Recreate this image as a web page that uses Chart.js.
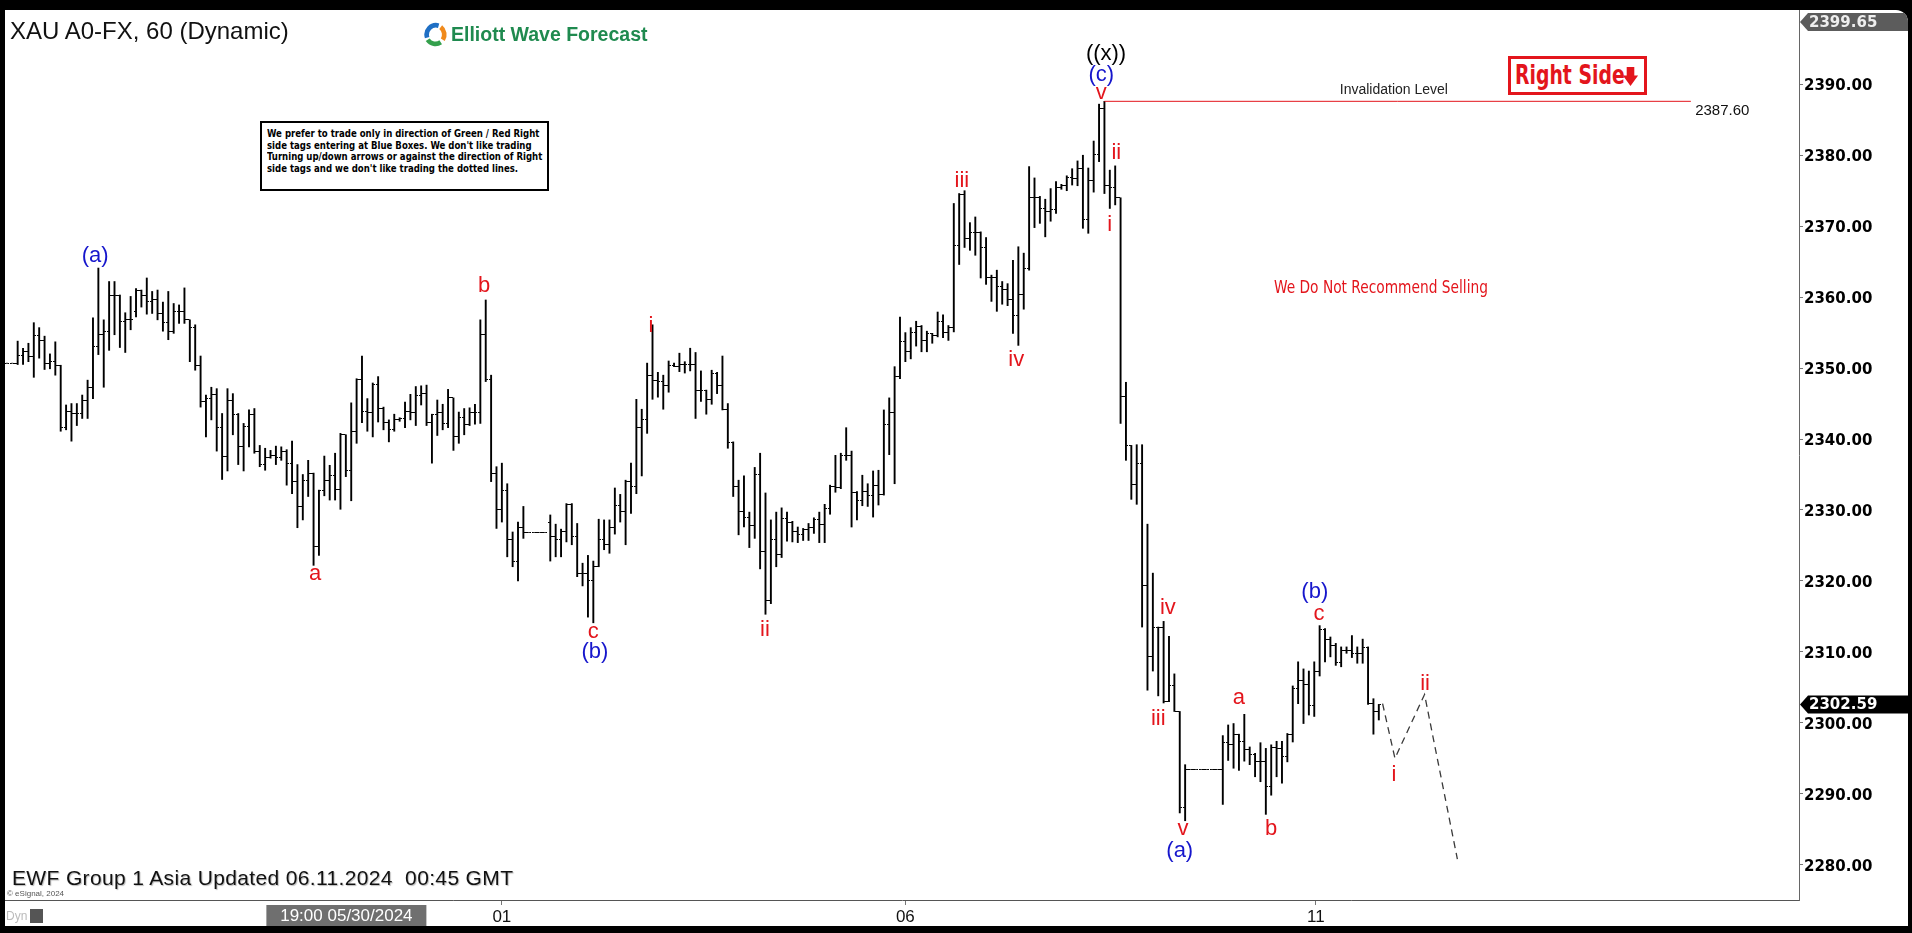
<!DOCTYPE html>
<html>
<head>
<meta charset="utf-8">
<script src="https://cdn.jsdelivr.net/npm/chart.js@4.4.1/dist/chart.umd.min.js"></script>
<style>
  html, body { margin: 0; padding: 0; background: #000; width: 1912px; height: 933px; overflow: hidden; }
  #panel { position: absolute; left: 5px; top: 10px; width: 1903px; height: 916px; background: #fff;
           border-top-right-radius: 12px; overflow: hidden; }
  #chart { position: absolute; left: 0; top: 0; }
  .abs { position: absolute; white-space: nowrap; }
  #title { left: 5px; top: 8px; font: 24px/26px "Liberation Sans", Arial, sans-serif; color: #111; }
  #logo { left: 418px; top: 12px; width: 25px; height: 25px; }
  #logoText { left: 446px; top: 14px; font: bold 19.5px/20px "Liberation Sans", Arial, sans-serif; color: #1f8a4f; }
  #note { left: 255px; top: 111px; width: 289px; height: 70px; box-sizing: border-box; border: 2px solid #000; background: #fff; }
  #note div { position: absolute; left: 5px; top: 5px; transform: scaleX(0.865); transform-origin: left top;
              font: bold 11px/11.7px "Liberation Sans Narrow", "DejaVu Sans Condensed", sans-serif; color: #000; white-space: nowrap; }
  #rightSide { left: 1503px; top: 46px; width: 139px; height: 39px; box-sizing: border-box; border: 3px solid #e3151c; background: #fff; }
  #rightSide span { position: absolute; left: 4px; top: 0; transform: scaleX(0.805); transform-origin: left top;
                    color: #e3151c; font: bold 26px/33px "Liberation Sans Narrow", "DejaVu Sans Condensed", sans-serif; white-space: nowrap; }
  #rightSide svg { position: absolute; left: 111px; top: 8px; }
  #ewf { left: 7px; top: 857px; font: 21px/22px "Liberation Sans", Arial, sans-serif; letter-spacing: 0.35px; color: #111;
         text-shadow: 1px 1px 1px #bbb; }
  #esig { left: 2px; top: 879px; font: 8px/9px "Liberation Sans", Arial, sans-serif; color: #555; }
  #dyn { left: 1px; top: 899px; font: 12px/14px "Liberation Sans", Arial, sans-serif; color: #bbb; }
  #dynIcon { left: 25px; top: 899px; width: 13px; height: 14px; background: #555; }
</style>
</head>
<body>
<div id="panel">
  <canvas id="chart" width="1903" height="916"></canvas>
  <div class="abs" id="title">XAU A0-FX, 60 (Dynamic)</div>
  <svg class="abs" id="logo" viewBox="0 0 24 24">
    <path d="M4 15 A9 9 0 0 1 15 3.5" fill="none" stroke="#1f6fc4" stroke-width="4.5"/>
    <path d="M17 5 A9 9 0 0 1 19 17" fill="none" stroke="#f08a1c" stroke-width="4.5"/>
    <path d="M17 19.5 A9 9 0 0 1 4.5 17" fill="none" stroke="#34a04c" stroke-width="4.5"/>
  </svg>
  <div class="abs" id="logoText">Elliott Wave Forecast</div>
  <div class="abs" id="note"><div>We prefer to trade only in direction of Green / Red Right<br>side tags entering at Blue Boxes. We don't like trading<br>Turning up/down arrows or against the direction of Right<br>side tags and we don't like trading the dotted lines.</div></div>
  <div class="abs" id="rightSide"><span>Right Side</span><svg width="17" height="19" viewBox="0 0 16 20"><path d="M4 0 H12 V9 H16 L8 20 L0 9 H4 Z" fill="#e3151c"/></svg></div>
  <div class="abs" id="ewf">EWF Group 1 Asia Updated 06.11.2024&nbsp; 00:45 GMT</div>
  <div class="abs" id="esig">© eSignal, 2024</div>
  <div class="abs" id="dyn">Dyn</div>
  <div class="abs" id="dynIcon"></div>
</div>
<script>
// hourly bars, left to right
const opens = [
  2350.7,2350.7,2350.7,2351.8,2352.3,2351.7,2354.6,2353.9,2350.7,2350.9,
  2350.3,2341.6,2343.9,2343.6,2343.6,2345.5,2347.3,2353.1,2354.8,2355.1,
  2360.2,2360.2,2356.5,2356.9,2358.0,2361.0,2360.2,2359.4,2359.7,2357.7,
  2356.4,2355.2,2358.0,2358.0,2356.8,2355.7,2350.3,2345.3,2345.7,2346.3,
  2341.6,2337.5,2345.5,2343.4,2338.9,2341.7,2343.4,2338.3,2336.4,2337.4,
  2337.7,2337.4,2338.3,2336.6,2334.0,2330.5,2334.2,2335.2,2324.8,2332.7,
  2334.2,2334.9,2332.9,2340.6,2335.6,2341.1,2348.4,2343.9,2343.7,2347.7,
  2344.3,2342.4,2341.3,2342.8,2342.9,2343.9,2343.8,2346.1,2346.4,2342.4,
  2343.5,2343.8,2342.2,2345.8,2340.3,2343.1,2342.0,2343.8,2343.7,2354.7,
  2348.4,2335.2,2330.0,2332.7,2325.8,2322.8,2327.5,2326.8,2326.8,2326.8,
  2326.8,2328.2,2326.2,2325.9,2326.9,2330.8,2326.3,2321.1,2321.1,2320.0,
  2322.1,2325.8,2325.2,2327.6,2330.6,2329.8,2334.0,2333.3,2341.6,2342.7,
  2348.9,2348.3,2348.1,2347.5,2350.3,2350.2,2350.5,2350.5,2350.5,2346.9,
  2346.8,2345.6,2349.3,2347.5,2344.2,2339.5,2333.3,2329.8,2329.0,2327.8,
  2335.0,2324.2,2317.3,2325.9,2323.7,2328.8,2328.3,2327.0,2326.6,2327.3,
  2327.5,2328.6,2328.0,2330.2,2333.3,2333.1,2337.7,2337.7,2332.5,2331.4,
  2332.6,2332.1,2333.5,2332.2,2342.0,2343.7,2348.8,2353.8,2352.4,2355.0,
  2355.8,2353.9,2354.9,2354.6,2356.6,2355.0,2355.7,2367.3,2374.4,2368.3,
  2369.1,2369.1,2367.0,2362.7,2362.7,2361.5,2361.1,2359.6,2357.4,2360.4,
  2364.0,2374.1,2374.1,2372.5,2372.0,2372.4,2375.4,2375.7,2376.8,2376.7,
  2378.2,2370.9,2376.4,2380.1,2386.6,2375.8,2375.4,2374.0,2346.0,2339.1,
  2333.6,2336.5,2319.4,2309.4,2313.4,2313.4,2303.0,2305.3,2301.6,2288.0,
  2293.4,2293.4,2293.4,2293.4,2293.4,2293.4,2293.4,2297.2,2296.9,2298.3,
  2297.4,2296.2,2295.5,2294.5,2294.5,2291.0,2296.5,2296.4,2295.2,2298.4,
  2304.8,2306.0,2305.4,2302.5,2307.2,2313.2,2311.7,2310.9,2308.5,2310.2,
  2310.2,2309.8,2309.8,2310.6,2302.7,2301.6
];
const highs = [
  2350.7,2350.7,2353.8,2352.8,2353.5,2356.4,2355.7,2354.5,2352.0,2353.7,
  2350.4,2344.8,2345.0,2345.0,2346.2,2348.3,2357.1,2364.1,2356.8,2362.2,
  2362.2,2360.3,2357.8,2360.1,2361.2,2361.0,2362.7,2360.8,2361.0,2359.3,
  2360.8,2359.1,2358.9,2361.3,2356.8,2356.1,2351.7,2346.2,2347.3,2347.1,
  2343.6,2347.1,2346.4,2343.6,2342.2,2344.1,2344.3,2339.1,2338.7,2338.4,
  2339.0,2338.9,2338.5,2339.7,2336.4,2335.0,2337.0,2335.2,2332.8,2337.6,
  2336.3,2338.0,2340.8,2340.6,2345.1,2348.5,2351.7,2345.7,2347.9,2348.8,
  2344.5,2342.7,2343.5,2343.0,2345.2,2346.3,2347.4,2347.5,2347.6,2343.5,
  2345.5,2344.9,2347.0,2345.8,2343.8,2344.3,2344.4,2344.9,2356.8,2359.6,
  2349.0,2336.1,2336.6,2333.7,2326.9,2328.3,2330.5,2326.8,2326.8,2326.8,
  2326.8,2329.3,2328.0,2327.3,2330.9,2330.9,2328.1,2322.5,2323.6,2322.8,
  2328.7,2328.6,2328.6,2333.1,2332.2,2334.2,2336.6,2345.6,2344.2,2350.7,
  2356.1,2349.4,2349.0,2351.0,2350.7,2352.1,2350.9,2352.8,2352.2,2349.6,
  2346.9,2349.7,2349.4,2351.7,2345.0,2339.6,2334.2,2334.8,2329.7,2336.0,
  2338.0,2332.4,2328.6,2329.7,2330.3,2329.7,2328.4,2327.6,2327.4,2328.1,
  2328.9,2329.7,2330.8,2333.5,2337.7,2338.0,2341.6,2338.3,2332.6,2334.9,
  2333.7,2335.5,2335.6,2344.1,2345.8,2350.2,2357.2,2355.0,2355.7,2356.6,
  2356.0,2355.2,2354.9,2357.9,2357.5,2356.0,2373.2,2374.6,2375.0,2370.5,
  2371.3,2369.2,2368.4,2363.1,2363.8,2362.2,2361.9,2365.2,2367.1,2366.2,
  2378.4,2376.8,2374.2,2373.8,2375.3,2376.3,2375.9,2377.1,2378.1,2379.2,
  2380.0,2378.2,2382.0,2387.2,2387.6,2377.9,2378.5,2374.0,2348.0,2339.1,
  2339.2,2339.2,2328.0,2321.1,2313.5,2314.3,2312.2,2306.9,2301.6,2294.1,
  2293.4,2293.4,2293.4,2293.4,2293.4,2293.4,2298.2,2299.7,2299.9,2298.4,
  2301.2,2296.6,2295.7,2297.2,2296.4,2296.9,2297.4,2297.4,2298.5,2305.2,
  2308.6,2307.6,2307.3,2308.6,2313.7,2313.3,2312.1,2311.2,2310.7,2310.7,
  2312.3,2310.7,2311.8,2310.7,2303.4,2302.6
];
const lows = [
  2350.7,2350.7,2350.5,2350.5,2350.9,2348.7,2351.4,2349.8,2349.9,2349.0,
  2341.1,2341.3,2339.7,2341.9,2342.9,2342.9,2345.7,2351.9,2347.3,2352.5,
  2354.7,2352.9,2352.2,2355.4,2357.2,2358.6,2357.6,2357.7,2356.8,2355.2,
  2354.0,2354.9,2356.3,2356.3,2350.9,2349.7,2344.5,2340.3,2342.7,2338.3,
  2334.3,2335.5,2340.6,2336.4,2335.5,2338.9,2338.0,2336.1,2335.6,2337.3,
  2336.4,2337.0,2333.5,2332.3,2327.5,2328.6,2331.9,2322.2,2323.6,2332.0,
  2331.4,2331.4,2330.1,2334.7,2331.3,2339.4,2342.3,2341.1,2340.3,2342.4,
  2341.3,2339.6,2341.1,2342.5,2341.6,2342.7,2341.9,2344.8,2341.9,2336.6,
  2340.5,2341.3,2341.6,2338.4,2339.4,2340.6,2341.9,2342.1,2342.2,2348.1,
  2334.0,2327.4,2328.3,2323.4,2322.0,2320.0,2326.0,2326.8,2326.8,2326.8,
  2326.8,2322.8,2323.4,2323.4,2325.5,2325.1,2320.6,2319.3,2314.9,2314.1,
  2322.0,2324.4,2323.9,2326.6,2328.3,2325.1,2329.5,2332.3,2334.8,2340.8,
  2345.6,2345.9,2344.2,2346.6,2350.2,2349.5,2349.3,2349.6,2342.9,2345.3,
  2343.5,2344.9,2346.4,2344.1,2338.7,2331.9,2326.5,2327.6,2324.7,2326.0,
  2321.7,2315.3,2316.8,2322.0,2323.3,2325.6,2325.5,2325.4,2325.7,2325.7,
  2326.7,2325.4,2325.4,2329.4,2332.5,2333.0,2337.0,2327.6,2328.6,2330.6,
  2330.5,2329.0,2330.7,2332.1,2337.8,2333.7,2348.5,2350.9,2351.3,2353.1,
  2352.3,2352.3,2353.5,2354.4,2354.3,2353.9,2355.1,2364.6,2367.0,2366.6,
  2365.9,2362.7,2361.8,2359.4,2358.0,2359.0,2358.8,2354.9,2353.2,2358.3,
  2363.8,2369.8,2370.4,2368.5,2370.7,2371.8,2375.2,2375.0,2375.8,2375.7,
  2369.7,2369.0,2374.8,2379.1,2374.6,2372.5,2373.0,2342.2,2337.0,2331.5,
  2330.8,2313.5,2304.6,2307.3,2303.8,2302.8,2303.0,2301.6,2287.3,2286.2,
  2293.4,2293.4,2293.4,2293.4,2293.4,2293.4,2288.5,2294.7,2293.6,2293.3,
  2294.6,2294.1,2292.4,2291.7,2287.1,2289.8,2292.4,2291.5,2294.5,2297.3,
  2302.7,2299.9,2301.1,2300.9,2306.6,2308.6,2309.3,2308.1,2307.9,2309.8,
  2309.2,2308.4,2308.4,2302.6,2298.4,2300.4
];
const closes = [
  2350.7,2350.7,2351.8,2352.3,2351.7,2354.6,2353.9,2350.7,2350.9,2350.3,
  2341.6,2343.9,2343.6,2343.6,2345.5,2347.3,2353.1,2354.8,2355.1,2360.2,
  2360.2,2356.5,2356.9,2356.9,2361.0,2360.2,2359.4,2359.7,2357.7,2356.4,
  2355.2,2358.0,2358.0,2356.8,2355.7,2350.3,2345.3,2345.7,2346.3,2341.6,
  2337.5,2345.5,2343.4,2338.9,2341.7,2343.4,2338.3,2336.4,2337.4,2337.7,
  2337.4,2338.3,2336.6,2334.0,2330.5,2334.2,2335.2,2324.8,2332.7,2334.2,
  2334.9,2332.9,2340.6,2335.6,2341.1,2348.4,2343.9,2343.7,2347.7,2344.3,
  2342.4,2341.3,2342.8,2342.9,2343.9,2343.8,2346.1,2346.4,2342.4,2343.5,
  2343.8,2342.2,2345.8,2340.3,2343.1,2342.0,2343.8,2343.7,2354.7,2348.4,
  2335.2,2330.0,2332.7,2325.8,2322.8,2327.5,2326.8,2326.8,2326.8,2326.8,
  2326.8,2326.2,2325.9,2326.9,2330.8,2326.3,2321.1,2321.1,2320.0,2322.1,
  2325.8,2325.2,2327.6,2330.6,2329.8,2334.0,2333.3,2341.6,2342.7,2348.9,
  2348.3,2348.1,2347.5,2350.3,2350.2,2350.5,2350.5,2350.5,2346.9,2346.8,
  2345.6,2349.3,2347.5,2344.2,2339.5,2333.3,2329.8,2329.0,2327.8,2335.0,
  2324.2,2317.3,2325.9,2323.7,2328.8,2328.3,2327.0,2326.6,2327.3,2327.5,
  2328.6,2328.0,2330.2,2333.3,2333.1,2337.7,2337.7,2332.5,2331.4,2332.6,
  2332.1,2333.5,2332.2,2342.0,2343.7,2348.8,2353.8,2352.4,2355.0,2355.8,
  2353.9,2354.9,2354.6,2356.6,2355.0,2355.7,2367.3,2374.4,2368.3,2369.1,
  2369.1,2367.0,2362.7,2362.7,2361.5,2361.1,2359.6,2357.4,2360.4,2364.0,
  2374.1,2374.1,2372.5,2372.0,2372.4,2375.4,2375.7,2376.8,2376.7,2378.2,
  2370.9,2376.4,2380.1,2386.6,2375.8,2375.4,2374.0,2346.0,2339.1,2333.6,
  2336.5,2319.4,2309.4,2313.4,2313.4,2303.0,2305.3,2301.6,2288.0,2293.4,
  2293.4,2293.4,2293.4,2293.4,2293.4,2293.4,2297.2,2296.9,2298.3,2297.4,
  2296.2,2295.5,2294.5,2294.5,2291.0,2296.5,2296.4,2295.2,2298.4,2304.8,
  2306.0,2305.4,2302.5,2307.2,2313.2,2311.7,2310.9,2308.5,2310.2,2310.2,
  2309.8,2309.8,2310.6,2302.7,2301.6,2302.59
];

const dayTicks = [92, 167, 243.3];
const dayLabels = ["01", "06", "11"];
const priceTicks = [2280, 2290, 2300, 2310, 2320, 2330, 2340, 2350, 2360, 2370, 2380, 2390];

// wave count labels: text, bar position, price, colour
const RED = "#e3151c", BLUE = "#1616cc", BLACK = "#000";
const waveLabels = [
  ["(a)", 16.4, 2365.8, BLUE],
  ["a", 57.3, 2321.0, RED],
  ["b", 88.7, 2361.6, RED],
  ["c", 109.0, 2312.8, RED],
  ["(b)", 109.3, 2310.0, BLUE],
  ["i", 119.7, 2356.0, RED],
  ["ii", 140.9, 2313.1, RED],
  ["iii", 177.5, 2376.4, RED],
  ["iv", 187.6, 2351.2, RED],
  ["((x))", 204.3, 2394.3, BLACK],
  ["(c)", 203.4, 2391.3, BLUE],
  ["v", 203.4, 2388.8, RED],
  ["ii", 206.2, 2380.3, RED],
  ["i", 205.0, 2370.2, RED],
  ["iv", 215.8, 2316.2, RED],
  ["iii", 214.0, 2300.6, RED],
  ["v", 218.6, 2285.0, RED],
  ["(a)", 218.0, 2282.0, BLUE],
  ["a", 229.0, 2303.5, RED],
  ["b", 235.0, 2285.0, RED],
  ["(b)", 243.1, 2318.5, BLUE],
  ["c", 243.9, 2315.4, RED],
  ["ii", 263.6, 2305.5, RED],
  ["i", 257.8, 2292.7, RED]
];

// projected path (dashed)
const projX = [255.7, 258.0, 263.5, 269.6];
const projY = [2302.7, 2295.0, 2304.0, 2280.8];

const invalidLevel = 2387.6;
const invalidFrom = 204, invalidTo = 313;
const lastPrice = 2302.59;
const topPrice = 2399.65;

if ([opens, highs, lows, closes].some(a => a.length !== closes.length)) {
  throw new Error("length mismatch " + [opens.length, highs.length, lows.length, closes.length]);
}

const X_MIN = -0.353, X_MAX = 333.1;
const Y_MIN = 2275.03, Y_MAX = 2400.47;

function tickImage(side) {
  const c = document.createElement("canvas");
  c.width = 5; c.height = 1;
  const g = c.getContext("2d");
  g.fillStyle = "#000";
  g.fillRect(side === "open" ? 0 : 3, 0, 2, 1);
  return c;
}

const overlayPlugin = {
  id: "overlay",
  afterDatasetsDraw(chart) {
    const { ctx } = chart;
    const x = chart.scales.x, y = chart.scales.y;
    ctx.save();
    ctx.textAlign = "center";
    ctx.textBaseline = "middle";
    ctx.font = '22px "Liberation Sans", Arial, sans-serif';
    waveLabels.forEach(([t, i, p, c]) => {
      ctx.fillStyle = c;
      ctx.fillText(t, x.getPixelForValue(i), y.getPixelForValue(p));
    });

    ctx.fillStyle = "#222";
    ctx.font = '14px "Liberation Sans", Arial, sans-serif';
    ctx.fillText("Invalidation Level", x.getPixelForValue(257.8), y.getPixelForValue(2389.2));
    ctx.textAlign = "left";
    ctx.font = '15px "Liberation Sans", Arial, sans-serif';
    ctx.fillStyle = "#111";
    ctx.fillText("2387.60", x.getPixelForValue(313.8), y.getPixelForValue(2386.3));

    ctx.textAlign = "center";
    ctx.fillStyle = RED;
    ctx.font = '18px "Liberation Sans Narrow", "DejaVu Sans Condensed", sans-serif';
    ctx.translate(x.getPixelForValue(255.4), y.getPixelForValue(2361.2));
    ctx.scale(0.85, 1);
    ctx.fillText("We Do Not Recommend Selling", 0, 0);
    ctx.restore();
  },
  afterDraw(chart) {
    const { ctx, chartArea } = chart;
    const x = chart.scales.x, y = chart.scales.y;
    ctx.save();
    const marker = (py, bg, fg, text) => {
      const x0 = chartArea.right + 1;
      ctx.beginPath();
      ctx.moveTo(x0, py);
      ctx.lineTo(x0 + 8, py - 9);
      ctx.lineTo(x0 + 108, py - 9);
      ctx.lineTo(x0 + 108, py + 9);
      ctx.lineTo(x0 + 8, py + 9);
      ctx.closePath();
      ctx.fillStyle = bg;
      ctx.fill();
      ctx.fillStyle = fg;
      ctx.font = 'bold 15px "DejaVu Sans", sans-serif';
      ctx.textAlign = "left";
      ctx.textBaseline = "middle";
      ctx.fillText(text, x0 + 9, py + 1);
    };
    marker(y.getPixelForValue(lastPrice), "#000", "#fff", lastPrice.toFixed(2));
    marker(Math.max(y.getPixelForValue(topPrice), 12), "#5c5c5c", "#eee", topPrice.toFixed(2));

    // crosshair time box on the x axis
    const cx = x.getPixelForValue(63.1);
    ctx.fillStyle = "#6f6f6f";
    ctx.fillRect(cx - 80, chartArea.bottom + 5, 160, 22);
    ctx.fillStyle = "#fff";
    ctx.font = '17px "Liberation Sans", Arial, sans-serif';
    ctx.textAlign = "center";
    ctx.textBaseline = "middle";
    ctx.fillText("19:00 05/30/2024", cx, chartArea.bottom + 16.5);
    ctx.restore();
  }
};

const barIndex = closes.map((_, i) => i);
const ctx = document.getElementById("chart").getContext("2d");

new Chart(ctx, {
  type: "bar",
  data: {
    datasets: [
      {
        label: "range",
        data: barIndex.map(i => ({ x: i, y: [lows[i], highs[i]] })),
        backgroundColor: "#000",
        borderWidth: 0,
        barThickness: 1.25,
        order: 3
      },
      {
        type: "line",
        label: "open",
        data: barIndex.map(i => ({ x: i, y: opens[i] })),
        showLine: false,
        pointStyle: tickImage("open"),
        pointRadius: 3,
        order: 2
      },
      {
        type: "line",
        label: "close",
        data: barIndex.map(i => ({ x: i, y: closes[i] })),
        showLine: false,
        pointStyle: tickImage("close"),
        pointRadius: 3,
        order: 2
      },
      {
        type: "line",
        label: "invalidation",
        data: [{ x: invalidFrom, y: invalidLevel }, { x: invalidTo, y: invalidLevel }],
        borderColor: RED,
        borderWidth: 1,
        pointRadius: 0,
        order: 1
      },
      {
        type: "line",
        label: "projection",
        data: projX.map((v, i) => ({ x: v, y: projY[i] })),
        borderColor: "#3a3a3a",
        borderWidth: 1.3,
        borderDash: [7, 5],
        pointRadius: 0,
        tension: 0,
        order: 1
      }
    ]
  },
  options: {
    responsive: false,
    devicePixelRatio: 1,
    animation: false,
    layout: { padding: 0, autoPadding: false },
    plugins: { legend: { display: false }, tooltip: { enabled: false } },
    scales: {
      x: {
        type: "linear",
        min: X_MIN,
        max: X_MAX,
        offset: false,
        grid: { display: true, drawOnChartArea: false, drawTicks: true, tickLength: 5, color: "#777", offset: false },
        border: { display: true, color: "#555" },
        ticks: {
          color: "#111",
          font: { family: '"Liberation Sans", Arial, sans-serif', size: 17 },
          padding: 2,
          maxRotation: 0,
          autoSkip: false,
          callback: (v, i) => dayLabels[i]
        },
        afterBuildTicks: (s) => { s.ticks = dayTicks.map(v => ({ value: v })); },
        afterFit: (s) => { s.height = 26; s.paddingLeft = 0; s.paddingRight = 0; }
      },
      y: {
        position: "right",
        min: Y_MIN,
        max: Y_MAX,
        grid: { drawOnChartArea: false, tickLength: 4, color: "#777" },
        border: { display: true, color: "#666" },
        ticks: {
          color: "#000",
          font: { family: '"DejaVu Sans", sans-serif', size: 15, weight: "bold" },
          padding: 1,
          labelOffset: 2,
          callback: (v) => Number(v).toFixed(2)
        },
        afterBuildTicks: (s) => { s.ticks = priceTicks.map(v => ({ value: v })); },
        afterFit: (s) => { s.width = 109; s.paddingTop = 0; s.paddingBottom = 0; }
      }
    }
  },
  plugins: [overlayPlugin]
});
</script>
</body>
</html>
